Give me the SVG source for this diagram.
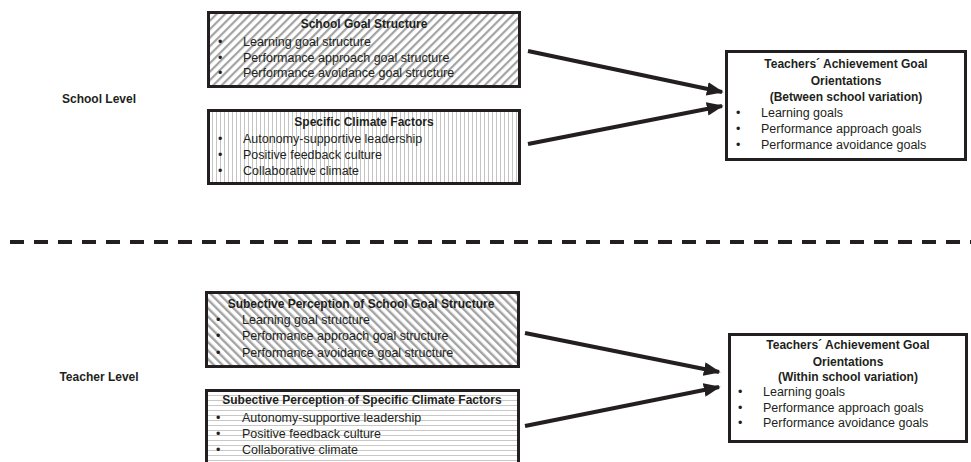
<svg xmlns="http://www.w3.org/2000/svg" width="971" height="462" viewBox="0 0 971 462">
<style>
text{font-family:"Liberation Sans",Arial,sans-serif;font-size:12.5px;fill:#231f20}
.b{font-weight:bold;font-size:12px}
.c{text-anchor:middle}
.box{stroke:#231f20;stroke-width:3}
.conn{stroke:#231f20;stroke-width:4;fill:none}
</style>
<defs>
<pattern id="p1" width="6" height="6" patternUnits="userSpaceOnUse" patternTransform="rotate(45)">
<rect width="6" height="6" fill="#fff"/><rect x="0" y="0" width="2.2" height="6" fill="#a3a3a3"/>
</pattern>
<pattern id="p3" width="6" height="6" patternUnits="userSpaceOnUse" patternTransform="rotate(-45)">
<rect width="6" height="6" fill="#fff"/><rect x="0" y="0" width="2.4" height="6" fill="#a3a3a3"/>
</pattern>
<pattern id="p2" width="4" height="4" patternUnits="userSpaceOnUse">
<rect width="4" height="4" fill="#fff"/><rect x="0" y="0" width="1" height="4" fill="#c4c4c4"/>
</pattern>
<pattern id="p4" width="5" height="5" patternUnits="userSpaceOnUse">
<rect width="5" height="5" fill="#fff"/><rect x="0" y="0" width="5" height="1" fill="#c8c8c8"/>
</pattern>
<marker id="ah" viewBox="0 0 10 10" refX="9" refY="5" markerWidth="4.2" markerHeight="3.4" orient="auto" markerUnits="strokeWidth" preserveAspectRatio="none">
<path d="M0,0 L10,5 L0,10 Z" fill="#231f20"/>
</marker>
</defs>
<rect width="971" height="462" fill="#fff"/>

<g id="school-level-label"><text class="b" x="99" y="103" text-anchor="middle">School Level</text></g>
<g id="teacher-level-label"><text class="b" x="99" y="381" text-anchor="middle">Teacher Level</text></g>

<g id="divider"><line x1="10" y1="242" x2="971" y2="242" stroke="#231f20" stroke-width="4" stroke-dasharray="14 10"/></g>

<g id="school-goal-structure">
<rect class="box" x="208.5" y="12.5" width="311" height="74" fill="url(#p1)"/>
<text class="b c" x="364" y="28">School Goal Structure</text>
<text x="218" y="46">•</text><text x="243" y="46">Learning goal structure</text>
<text x="218" y="62">•</text><text x="243" y="62">Performance approach goal structure</text>
<text x="218" y="77">•</text><text x="243" y="77">Performance avoidance goal structure</text>
</g>

<g id="specific-climate-factors">
<rect class="box" x="208.5" y="110.5" width="311" height="73" fill="url(#p2)"/>
<text class="b c" x="364" y="126">Specific Climate Factors</text>
<text x="218" y="143">•</text><text x="243" y="143">Autonomy-supportive leadership</text>
<text x="218" y="159">•</text><text x="243" y="159">Positive feedback culture</text>
<text x="218" y="175">•</text><text x="243" y="175">Collaborative climate</text>
</g>

<g id="school-outcome">
<rect class="box" x="726.5" y="51.5" width="239" height="108" fill="#fff"/>
<text class="b c" x="846" y="68">Teachers´ Achievement Goal</text>
<text class="b c" x="846" y="85">Orientations</text>
<text class="b c" x="846" y="101">(Between school variation)</text>
<text x="736" y="117">•</text><text x="761" y="117">Learning goals</text>
<text x="736" y="133">•</text><text x="761" y="133">Performance approach goals</text>
<text x="736" y="149">•</text><text x="761" y="149">Performance avoidance goals</text>
</g>

<g id="perceived-school-goal-structure">
<rect class="box" x="206.5" y="292.5" width="312" height="74" fill="url(#p3)"/>
<text class="b c" x="361" y="308">Subective Perception of School Goal Structure</text>
<text x="216" y="324">•</text><text x="242" y="324">Learning goal structure</text>
<text x="216" y="340">•</text><text x="242" y="340">Performance approach goal structure</text>
<text x="216" y="357">•</text><text x="242" y="357">Performance avoidance goal structure</text>
</g>

<g id="perceived-climate-factors">
<rect class="box" x="206.5" y="390.5" width="312" height="80" fill="url(#p4)"/>
<text class="b c" x="362" y="404">Subective Perception of Specific Climate Factors</text>
<text x="216" y="422">•</text><text x="242" y="422">Autonomy-supportive leadership</text>
<text x="216" y="438">•</text><text x="242" y="438">Positive feedback culture</text>
<text x="216" y="454">•</text><text x="242" y="454">Collaborative climate</text>
</g>

<g id="teacher-outcome">
<rect class="box" x="729.5" y="334.5" width="237" height="107" fill="#fff"/>
<text class="b c" x="848" y="349">Teachers´ Achievement Goal</text>
<text class="b c" x="848" y="366">Orientations</text>
<text class="b c" x="848" y="381">(Within school variation)</text>
<text x="738" y="396">•</text><text x="763" y="396">Learning goals</text>
<text x="738" y="412">•</text><text x="763" y="412">Performance approach goals</text>
<text x="738" y="427">•</text><text x="763" y="427">Performance avoidance goals</text>
</g>

<g id="connectors">
<line class="conn" x1="528" y1="51" x2="722" y2="92" marker-end="url(#ah)"/>
<line class="conn" x1="528" y1="144" x2="722" y2="106" marker-end="url(#ah)"/>
<line class="conn" x1="525" y1="333" x2="719" y2="372" marker-end="url(#ah)"/>
<line class="conn" x1="525" y1="426" x2="719" y2="387" marker-end="url(#ah)"/>
</g>
</svg>
